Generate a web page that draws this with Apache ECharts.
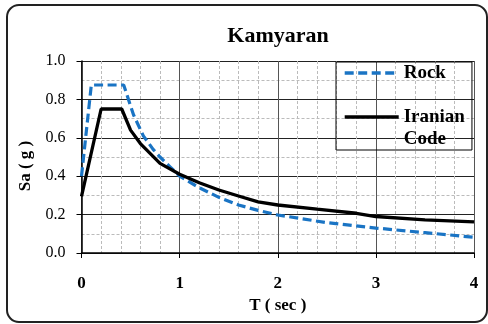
<!DOCTYPE html>
<html>
<head>
<meta charset="utf-8">
<script src="https://cdn.jsdelivr.net/npm/echarts@6/dist/echarts.min.js"></script>
<style>
  html, body { margin: 0; padding: 0; background: #fff; }
  #chart { width: 488px; height: 324px; }
</style>
</head>
<body>
<div id="chart"></div>
<script>
// Response spectra for Kamyaran: period T (sec) vs spectral acceleration Sa (g)
const rockT   = [0, 0.1, 0.43, 0.53, 0.63, 0.73, 0.8, 0.9, 1.0, 1.2, 1.4, 1.6, 1.8, 2.0, 2.5, 3.0, 3.5, 4.0];
const rockSa  = [0.40, 0.875, 0.875, 0.72, 0.61, 0.54, 0.50, 0.45, 0.40, 0.34, 0.29, 0.25, 0.222, 0.198, 0.158, 0.13, 0.106, 0.082];
const codeT   = [0, 0.2, 0.41, 0.5, 0.6, 0.8, 1.0, 1.2, 1.4, 1.6, 1.8, 2.0, 2.4, 2.8, 3.0, 3.5, 4.0];
const codeSa  = [0.295, 0.75, 0.75, 0.64, 0.57, 0.467, 0.41, 0.366, 0.328, 0.297, 0.266, 0.25, 0.228, 0.207, 0.19, 0.172, 0.162];
const seriesNames = ['Rock', 'Iranian\nCode'];
const chartTitle = 'Kamyaran';
const xTitle = 'T ( sec )';
const yTitle = 'Sa ( g )';

const pairs = (xs, ys) => xs.map((x, i) => [x, ys[i]]);
const serif = '"Liberation Serif", "DejaVu Serif", serif';

const chart = echarts.init(document.getElementById('chart'), null, { renderer: 'canvas' });
chart.setOption({
  backgroundColor: '#fff',
  animation: false,
  title: {
    text: chartTitle,
    left: 273, top: 20, textAlign: 'center',
    textStyle: { fontFamily: serif, fontWeight: 'bold', fontSize: 22, color: '#000' }
  },
  graphic: [{
    type: 'rect', z: -1, silent: true,
    shape: { x: 7, y: 5, width: 480, height: 317, r: 12 },
    style: { fill: 'none', stroke: '#222', lineWidth: 2 }
  }],
  legend: {
    orient: 'vertical',
    left: 336, top: 62,
    padding: [0, 7, 0, 7],
    itemGap: 0,
    itemWidth: 54, itemHeight: 14,
    borderColor: '#000', borderWidth: 1,
    itemStyle: { opacity: 0 },
    lineStyle: { width: 3.4, color: 'inherit', type: 'inherit' },
    textStyle: { fontFamily: serif, fontWeight: 'bold', fontSize: 19, color: '#000', lineHeight: 22 },
    // a blank first line keeps the two-line label's first line level with its key
    formatter: name => (name.indexOf('\n') >= 0 ? ' \n' + name : name),
    data: seriesNames
  },
  grid: { left: 81.5, right: 14, top: 61, bottom: 71 },
  xAxis: {
    type: 'value', min: 0, max: 4, interval: 1,
    name: xTitle, nameLocation: 'middle', nameGap: 39,
    nameTextStyle: { fontFamily: serif, fontWeight: 'bold', fontSize: 17, color: '#000' },
    axisLine: { onZero: false, lineStyle: { color: '#000', width: 1.5 } },
    axisTick: { show: true, length: 5, lineStyle: { color: '#000' } },
    axisLabel: { margin: 22, fontFamily: serif, fontWeight: 'bold', fontSize: 17, color: '#000' },
    splitLine: { show: true, lineStyle: { color: '#555', width: 1 } },
    minorTick: { show: false, splitNumber: 5 },
    minorSplitLine: { show: true, lineStyle: { color: '#bbb', type: [3, 2], width: 1 } }
  },
  yAxis: {
    type: 'value', min: 0, max: 1, interval: 0.2,
    name: yTitle, nameLocation: 'middle', nameGap: 35, nameRotate: 90,
    nameTextStyle: { fontFamily: serif, fontWeight: 'bold', fontSize: 17, color: '#000', padding: [0, 18, 0, 0] },
    axisLine: { show: true, onZero: false, lineStyle: { color: '#000', width: 1.5 } },
    axisTick: { show: true, length: 5, lineStyle: { color: '#000' } },
    axisLabel: {
      margin: 16, fontFamily: serif, fontSize: 16, color: '#000',
      formatter: v => v.toFixed(1)
    },
    splitLine: { show: true, lineStyle: { color: '#222', width: 1 } },
    minorTick: { show: false, splitNumber: 2 },
    minorSplitLine: { show: true, lineStyle: { color: '#bbb', type: [3, 2], width: 1 } }
  },
  series: [
    {
      name: seriesNames[0], type: 'line', data: pairs(rockT, rockSa),
      showSymbol: false, symbol: 'none',
      lineStyle: { color: '#1a74c4', width: 3.2, type: [9, 4.5] },
      itemStyle: { color: '#1a74c4' },
      z: 3
    },
    {
      name: seriesNames[1], type: 'line', data: pairs(codeT, codeSa),
      showSymbol: false, symbol: 'none',
      lineStyle: { color: '#000', width: 3.3 },
      itemStyle: { color: '#000' },
      z: 4
    }
  ]
});
</script>
</body>
</html>
